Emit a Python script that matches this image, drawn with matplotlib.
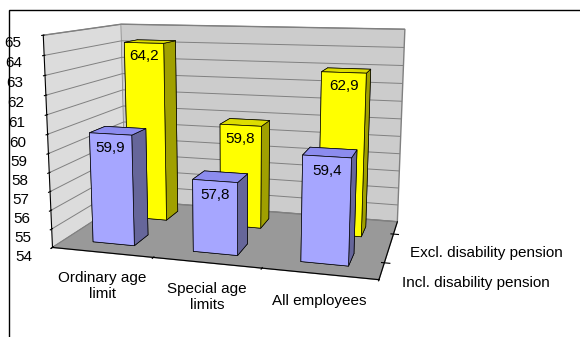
import matplotlib
matplotlib.use("Agg")
import matplotlib.pyplot as plt
from matplotlib.patches import Rectangle
import numpy as np

# data
categories = ["Ordinary age\nlimit", "Special age\nlimits", "All employees"]
series = ["Incl. disability pension", "Excl. disability pension"]
incl = [59.9, 57.8, 59.4]
excl = [64.2, 59.8, 62.9]
value_labels_incl = ["59,9", "57,8", "59,4"]
value_labels_excl = ["64,2", "59,8", "62,9"]
zmin, zmax = 54, 65

plt.rcParams["font.family"] = ["Liberation Sans", "DejaVu Sans"]
plt.rcParams["font.size"] = 11

fig = plt.figure(figsize=(5.8, 3.37), dpi=100)
ax = fig.add_subplot(projection="3d", proj_type="persp", focal_length=0.38)
ax.set_position([-0.157, -0.018, 1.1, 1.2])

# bar faces: bottom, top, front, back, left, right
blue = ["#8888cc", "#8c8cee", "#a6a6ff", "#a6a6ff", "#a6a6ff", "#66669a"]
yellow = ["#bbbb00", "#dddd00", "#ffff00", "#ffff00", "#ffff00", "#a0a000"]

w = 0.42
d = 0.4
xs = np.arange(len(categories))
for vals, yi, cols, labs in [(excl, 1, yellow, value_labels_excl),
                             (incl, 0, blue, value_labels_incl)]:
    for xi, v, lab in zip(xs, vals, labs):
        ax.bar3d(xi + 0.5 - w / 2, yi + 0.5 - d / 2, zmin, w, d, v - zmin,
                 color=cols, shade=False, edgecolor="black", linewidth=0.5)
        ax.text(xi + 0.5, yi + 0.5 - d / 2, v - 0.35, lab, ha="center",
                va="top", fontsize=11, zorder=10)

# category labels under the front edge
for xi, cat in zip(xs, categories):
    ax.text(xi + 0.5, 0, zmin - 1.0, cat, ha="center", va="top",
            fontsize=11)

ax.set_xlim(0, 3)
ax.set_ylim(0, 2)
ax.set_zlim(zmin, zmax)
ax.set_box_aspect((0.95, 0.54, 0.62), zoom=1.0)
ax.view_init(elev=11, azim=-74)

ax.set_xticks([0, 1, 2, 3])
ax.set_xticklabels([])
ax.set_yticks([0.5, 1.5])
ax.set_yticklabels(series, ha="left")
ax.set_zticks(range(zmin, zmax + 1))
ax.zaxis.set_ticks_position("lower")
ax.tick_params(axis="y", pad=0)

ax.xaxis.set_pane_color("#dcdcdc")
ax.yaxis.set_pane_color("#cccccc")
ax.zaxis.set_pane_color("#999999")
for a in (ax.xaxis, ax.yaxis, ax.zaxis):
    a.pane.set_edgecolor("#808080")
    a._axinfo["grid"]["linewidth"] = 0.7
    a._axinfo["grid"]["color"] = "#808080"
    a._axinfo["axisline"]["color"] = "black"
    a.line.set_linewidth(0.8)
    a.offsetText.set_visible(False)
    a.label.set_visible(False)
ax.xaxis._axinfo["grid"]["color"] = (1, 1, 1, 0)
ax.yaxis._axinfo["grid"]["color"] = (1, 1, 1, 0)

# chart border (top and left visible)
fig.add_artist(Rectangle((9 / 580, -0.1), 1.2, (337 - 10) / 337 + 0.1,
                         transform=fig.transFigure, fill=False,
                         edgecolor="black", linewidth=1))

plt.savefig("out.png", dpi=100)
